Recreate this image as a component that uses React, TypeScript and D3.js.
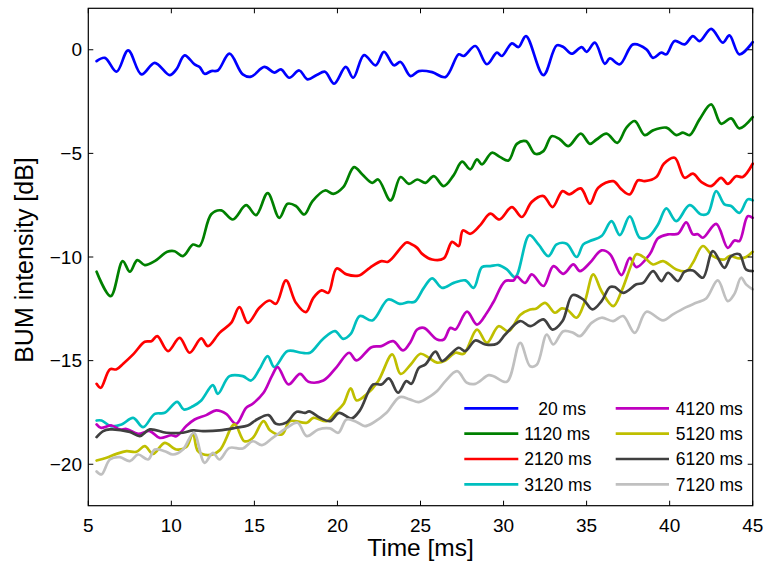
import React from "react";
import * as d3 from "d3";

type Pt = [number, number];

// BUM intensity traces [time ms, dB], one array per delay
const s20: Pt[] = [[5.5,-0.55],[6.0,-0.39],[6.7,-1.06],[7.4,-0.03],[8.2,-1.19],[9.0,-0.63],[9.9,-1.22],[10.3,-0.95],[10.8,-0.27],[11.4,-0.71],[11.7,-0.83],[12.0,-1.16],[12.4,-1.03],[12.8,-1.0],[13.5,-0.19],[14.3,-1.19],[14.8,-1.3],[15.6,-0.83],[16.2,-1.1],[16.6,-0.95],[17.1,-1.35],[17.7,-1.0],[18.2,-1.43],[18.75,-1.22],[19.25,-1.06],[19.8,-1.64],[20.5,-0.83],[20.95,-1.35],[21.6,-0.26],[22.3,-0.75],[22.8,-0.1],[23.4,-0.75],[23.8,-0.59],[24.4,-1.27],[24.9,-1.03],[25.7,-1.08],[26.5,-1.32],[27.3,-0.22],[27.6,-0.3],[28.3,0.18],[29.0,-0.7],[29.6,-0.14],[29.9,-0.3],[30.5,0.31],[30.9,0.13],[31.35,0.66],[32.4,-1.22],[33.2,0.21],[33.6,0.13],[34.1,-0.19],[34.7,0.13],[35.0,-0.1],[35.5,0.34],[36.1,-0.68],[36.4,-0.42],[37.0,-0.7],[37.8,0.26],[38.6,0.02],[39.0,-0.39],[39.5,-0.14],[39.8,-0.22],[40.3,0.42],[40.9,0.26],[41.4,0.66],[41.8,0.42],[42.5,1.01],[43.2,0.34],[43.6,0.69],[44.2,-0.22],[45.0,0.37]];

const s1120: Pt[] = [[5.5,-10.71],[6.35,-11.89],[7.07,-10.2],[7.5,-10.71],[7.95,-10.15],[8.4,-10.39],[9.0,-10.2],[9.75,-9.75],[10.2,-9.72],[10.7,-9.96],[11.3,-9.4],[11.7,-9.47],[12.4,-7.94],[13.0,-7.75],[13.7,-8.19],[14.5,-7.5],[15.1,-7.98],[15.8,-6.92],[16.5,-8.11],[17.0,-7.43],[17.5,-7.54],[18.0,-7.95],[18.5,-7.3],[19.25,-6.79],[19.75,-6.95],[20.35,-6.63],[21.0,-5.66],[21.5,-6.02],[22.1,-6.42],[22.45,-6.26],[23.2,-7.27],[23.8,-6.14],[24.3,-6.47],[24.8,-6.26],[25.3,-6.42],[25.8,-6.1],[26.4,-6.58],[27.0,-6.05],[27.5,-5.4],[28.0,-5.77],[28.4,-5.29],[28.7,-5.53],[29.3,-4.97],[29.8,-5.18],[30.3,-5.34],[30.8,-4.54],[31.35,-4.41],[31.9,-5.02],[32.4,-4.89],[32.9,-4.17],[33.4,-4.33],[33.9,-4.65],[34.65,-4.05],[35.2,-4.54],[35.6,-4.33],[36.2,-4.05],[36.85,-4.49],[37.4,-3.76],[37.9,-3.44],[38.5,-4.12],[39.0,-3.89],[39.8,-3.76],[40.4,-4.12],[40.8,-4.0],[41.2,-4.12],[41.8,-3.36],[42.5,-2.64],[43.1,-3.57],[43.7,-3.31],[44.2,-3.79],[45.0,-3.25]];

const s2120: Pt[] = [[5.5,-16.12],[5.75,-16.31],[6.3,-15.42],[6.7,-15.42],[7.1,-15.15],[7.7,-14.7],[8.4,-14.09],[8.8,-14.06],[9.15,-13.82],[9.8,-14.54],[10.5,-13.9],[11.1,-14.62],[11.8,-13.93],[12.2,-14.3],[12.9,-13.66],[13.6,-13.18],[14.1,-12.42],[14.6,-13.18],[15.3,-12.45],[15.9,-12.1],[16.3,-12.26],[16.9,-11.13],[17.5,-12.21],[18.1,-12.66],[18.55,-11.97],[19.05,-11.61],[19.45,-11.73],[19.95,-10.55],[20.55,-10.84],[21.3,-10.89],[21.95,-10.52],[22.65,-10.2],[23.05,-10.23],[24.15,-9.3],[24.4,-9.36],[24.8,-9.56],[25.1,-9.85],[25.7,-10.12],[26.4,-10.07],[26.9,-9.27],[27.3,-9.47],[27.55,-8.72],[28.0,-8.88],[28.6,-8.46],[29.2,-7.91],[29.75,-8.19],[30.5,-7.59],[31.1,-8.07],[31.7,-7.34],[32.4,-7.06],[32.95,-7.59],[33.55,-6.82],[33.95,-6.98],[34.65,-6.69],[35.2,-7.43],[35.7,-6.66],[36.6,-6.34],[37.1,-6.74],[37.6,-6.98],[38.1,-6.3],[38.5,-6.34],[39.2,-6.14],[39.65,-5.5],[40.3,-5.21],[40.9,-6.18],[41.4,-5.98],[41.9,-6.37],[42.5,-6.58],[43.1,-6.18],[43.5,-6.47],[44.0,-6.1],[44.4,-6.14],[45.0,-5.5]];

const s3120: Pt[] = [[5.5,-17.89],[5.8,-17.89],[6.35,-18.16],[7.0,-18.08],[7.7,-17.76],[8.3,-18.21],[9.0,-17.57],[9.6,-17.52],[10.35,-16.99],[10.75,-17.36],[11.3,-17.2],[11.8,-16.92],[12.5,-16.18],[12.8,-16.6],[13.5,-15.75],[14.3,-15.75],[14.8,-15.96],[15.3,-15.42],[15.8,-14.78],[16.2,-15.31],[17.0,-14.54],[17.85,-14.62],[18.35,-14.62],[19.1,-13.98],[19.85,-13.58],[20.35,-13.95],[20.8,-13.71],[21.35,-12.85],[22.1,-13.06],[23.05,-12.05],[23.75,-12.26],[24.25,-12.18],[24.65,-12.16],[25.2,-11.49],[25.7,-11.03],[26.3,-11.49],[27.0,-11.25],[27.7,-11.13],[28.2,-11.49],[28.7,-10.49],[29.2,-10.44],[29.7,-10.39],[30.2,-10.6],[30.7,-10.97],[31.55,-8.95],[32.1,-9.39],[32.7,-9.96],[33.2,-9.39],[33.8,-9.36],[34.4,-10.0],[34.8,-9.39],[35.2,-9.23],[35.9,-8.99],[36.5,-8.27],[37.0,-8.94],[37.6,-8.04],[38.2,-9.07],[38.7,-9.04],[39.3,-8.43],[39.8,-7.65],[40.4,-8.27],[41.2,-7.5],[41.9,-7.95],[42.3,-7.9],[42.8,-6.82],[43.3,-7.46],[43.7,-7.54],[44.2,-7.87],[44.7,-7.22],[45.0,-7.27]];

const s4120: Pt[] = [[5.5,-18.08],[5.75,-18.24],[6.4,-18.13],[6.9,-18.32],[7.3,-18.3],[8.0,-18.53],[8.7,-18.4],[9.3,-18.73],[10.0,-18.6],[10.3,-18.65],[10.9,-18.16],[11.4,-17.84],[12.1,-17.63],[12.7,-17.4],[13.3,-17.57],[13.9,-18.05],[14.5,-17.28],[14.9,-17.08],[15.55,-16.55],[16.05,-15.75],[16.4,-15.31],[17.05,-16.15],[17.75,-15.64],[18.25,-16.02],[19.15,-15.96],[19.95,-15.31],[20.7,-14.62],[21.15,-14.99],[22.05,-14.35],[22.65,-14.3],[23.35,-14.06],[23.95,-14.51],[24.4,-14.1],[24.8,-13.5],[25.2,-13.42],[26.0,-13.98],[26.4,-13.98],[26.8,-13.42],[27.1,-13.5],[27.8,-12.64],[28.4,-13.26],[29.0,-12.69],[29.4,-12.16],[30.1,-11.16],[30.6,-11.13],[30.8,-10.95],[31.3,-11.25],[31.7,-10.84],[32.4,-11.4],[33.0,-10.44],[33.6,-10.81],[34.2,-10.36],[34.6,-10.68],[35.2,-10.28],[35.9,-9.68],[36.4,-9.85],[37.1,-10.87],[37.6,-10.04],[38.0,-10.49],[38.8,-9.87],[39.3,-9.1],[39.9,-8.91],[40.5,-8.88],[41.0,-8.33],[41.4,-8.91],[41.7,-8.9],[42.0,-9.07],[42.8,-8.4],[43.5,-9.56],[43.9,-9.2],[44.2,-9.23],[44.7,-8.03],[45.0,-8.11]];

const s5120: Pt[] = [[5.5,-19.82],[6.1,-19.69],[6.7,-19.5],[7.3,-19.37],[7.9,-19.4],[8.4,-19.13],[8.9,-19.5],[9.6,-18.97],[10.3,-19.29],[10.9,-19.17],[11.3,-18.53],[11.6,-19.37],[12.2,-19.56],[12.9,-19.33],[13.8,-18.08],[14.4,-18.89],[14.9,-18.73],[15.55,-17.92],[15.95,-18.37],[16.65,-18.56],[17.15,-17.92],[18.15,-18.0],[18.55,-17.76],[19.35,-17.92],[19.85,-17.52],[20.35,-17.11],[20.8,-16.34],[21.15,-16.92],[21.75,-16.63],[22.45,-15.99],[23.3,-14.7],[23.8,-15.64],[24.4,-15.2],[25.0,-14.67],[25.5,-14.86],[26.0,-15.1],[26.5,-14.99],[27.1,-14.62],[27.6,-14.67],[28.4,-13.5],[29.0,-14.14],[29.7,-13.34],[30.3,-13.58],[31.0,-12.8],[31.6,-12.53],[31.95,-12.5],[32.5,-12.21],[33.1,-12.69],[33.5,-12.48],[33.85,-12.55],[34.4,-12.93],[34.9,-12.13],[35.4,-10.84],[35.9,-11.65],[36.6,-12.37],[37.1,-11.65],[37.7,-10.36],[38.0,-9.87],[38.5,-10.04],[39.0,-10.36],[39.6,-10.2],[40.4,-10.6],[41.0,-10.68],[41.4,-10.28],[42.0,-9.47],[42.6,-9.96],[43.3,-10.12],[43.6,-9.95],[44.2,-10.07],[44.6,-10.0],[45.0,-9.75]];

const s6120: Pt[] = [[5.5,-18.69],[5.9,-18.4],[6.3,-18.32],[7.5,-18.44],[8.1,-18.64],[8.7,-18.32],[9.7,-18.48],[10.7,-18.48],[11.3,-18.37],[11.9,-18.4],[12.9,-18.37],[13.9,-18.24],[14.6,-18.13],[15.15,-17.84],[15.85,-17.63],[16.3,-18.05],[16.9,-18.0],[17.55,-17.47],[18.05,-17.52],[18.3,-17.45],[18.95,-17.76],[19.55,-17.92],[20.1,-17.52],[20.85,-17.79],[21.35,-17.4],[22.15,-16.15],[22.65,-16.15],[23.1,-15.86],[23.65,-16.55],[24.15,-15.99],[24.45,-16.12],[24.9,-15.35],[25.3,-15.18],[25.9,-14.57],[26.3,-15.02],[26.8,-14.7],[27.3,-14.38],[27.7,-14.54],[28.3,-14.03],[28.9,-14.22],[29.6,-14.19],[30.1,-13.74],[31.0,-13.09],[31.6,-13.34],[32.4,-13.01],[32.95,-13.5],[33.55,-13.09],[34.15,-11.84],[34.8,-12.05],[35.35,-12.53],[35.9,-12.13],[36.4,-11.45],[36.7,-11.45],[37.2,-11.73],[38.0,-11.32],[38.4,-11.25],[39.0,-10.68],[39.5,-11.16],[39.9,-10.76],[40.5,-11.16],[40.9,-10.71],[41.4,-10.65],[42.0,-11.0],[42.6,-9.72],[43.3,-10.52],[43.7,-9.96],[44.2,-9.87],[44.6,-10.6],[45.0,-10.68]];

const s7120: Pt[] = [[5.5,-20.35],[5.8,-20.49],[6.3,-19.77],[6.9,-19.66],[7.5,-19.85],[8.0,-19.53],[8.6,-19.77],[9.0,-19.29],[9.6,-19.37],[10.1,-19.53],[10.7,-19.29],[11.35,-18.48],[12.0,-19.93],[12.5,-19.45],[12.9,-19.77],[13.5,-19.21],[14.3,-19.24],[14.9,-18.89],[15.45,-19.08],[16.1,-18.73],[16.9,-18.27],[17.6,-18.0],[18.15,-18.64],[18.85,-18.32],[19.55,-18.27],[20.05,-18.48],[20.55,-17.84],[21.15,-17.96],[21.65,-18.16],[22.15,-18.0],[22.95,-17.52],[23.75,-16.76],[24.35,-16.87],[24.9,-17.0],[25.6,-16.71],[26.0,-16.47],[26.5,-15.99],[27.2,-15.51],[27.8,-16.07],[28.3,-16.12],[29.1,-15.7],[29.4,-15.75],[30.2,-16.02],[31.0,-14.14],[31.6,-15.27],[32.0,-15.2],[32.6,-13.74],[33.0,-14.22],[33.6,-13.58],[34.2,-13.66],[34.6,-13.82],[35.3,-13.18],[35.9,-12.93],[36.6,-13.09],[37.2,-12.85],[37.9,-13.66],[38.6,-12.64],[39.6,-13.06],[40.2,-12.77],[41.0,-12.42],[41.6,-12.21],[42.2,-12.0],[42.9,-11.13],[43.5,-12.13],[43.9,-11.78],[44.3,-11.0],[44.6,-11.32],[45.0,-11.56]];

const seriesLabels = ["20 ms", "1120 ms", "2120 ms", "3120 ms", "4120 ms", "5120 ms", "6120 ms", "7120 ms"];
const seriesData = [s20, s1120, s2120, s3120, s4120, s5120, s6120, s7120];
const seriesColors = ["#0000ff", "#008000", "#ff0000", "#00bfbf", "#bf00bf", "#bfbf00", "#404040", "#c0c0c0"];

const xTicks = [5, 10, 15, 20, 25, 30, 35, 40, 45];
const yTicks = [-20, -15, -10, -5, 0];

const W = 768;
const H = 568;
const left = 88.3;
const right = 752.7;
const top = 8.3;
const bottom = 505.7;
const FONT = "'Liberation Sans', Arial, Helvetica, sans-serif";

export default function App() {
  const x = d3.scaleLinear().domain([5, 45]).range([left, right]);
  const y = d3.scaleLinear().domain([-22, 2]).range([bottom, top]);
  const line = d3
    .line<Pt>()
    .x((d) => x(d[0]))
    .y((d) => y(d[1]))
    .curve(d3.curveCatmullRom.alpha(0.5));

  const tl = 5;
  const legendRows = [408.3, 433.6, 459, 484.3];
  const legendCols = [
    { x0: 464.3, x1: 518.3, tx: 524.3 },
    { x0: 615.7, x1: 669, tx: 675.7 },
  ];

  return (
    <svg
      width={W}
      height={H}
      style={{ position: "absolute", left: 0, top: 0, background: "#fff" }}
      fontFamily={FONT}
    >
      <rect width={W} height={H} fill="#fff" />
      {seriesData.map((d, i) => (
        <path
          key={seriesLabels[i]}
          d={line(d) ?? ""}
          fill="none"
          stroke={seriesColors[i]}
          strokeWidth={2.7}
          strokeLinejoin="round"
          strokeLinecap="round"
        />
      ))}

      {/* axes box with inward ticks on all sides */}
      <rect x={left} y={top} width={right - left} height={bottom - top} fill="none" stroke="#000" strokeWidth={1.2} />
      {xTicks.map((t) => (
        <g key={"x" + t}>
          <line x1={x(t)} x2={x(t)} y1={bottom} y2={bottom - tl} stroke="#000" strokeWidth={1} />
          <line x1={x(t)} x2={x(t)} y1={top} y2={top + tl} stroke="#000" strokeWidth={1} />
          <text x={x(t)} y={532} textAnchor="middle" fontSize={19} fill="#000">
            {t}
          </text>
        </g>
      ))}
      {yTicks.map((t) => (
        <g key={"y" + t}>
          <line x1={left} x2={left + tl} y1={y(t)} y2={y(t)} stroke="#000" strokeWidth={1} />
          <line x1={right} x2={right - tl} y1={y(t)} y2={y(t)} stroke="#000" strokeWidth={1} />
          <text x={82} y={y(t) + 6.7} textAnchor="end" fontSize={19} fill="#000">
            {t < 0 ? "\u2212" + Math.abs(t) : String(t)}
          </text>
        </g>
      ))}

      <text x={(left + right) / 2} y={556} textAnchor="middle" fontSize={24.5} fill="#000">
        Time [ms]
      </text>
      <text
        transform={`translate(33, ${(top + bottom) / 2 + 3}) rotate(-90)`}
        textAnchor="middle"
        fontSize={25}
        fill="#000"
      >
        BUM intensity [dB]
      </text>

      {/* legend, two columns of four */}
      {seriesLabels.map((lab, i) => {
        const col = legendCols[Math.floor(i / 4)];
        const ry = legendRows[i % 4];
        return (
          <g key={"lg" + lab}>
            <line x1={col.x0} x2={col.x1} y1={ry} y2={ry} stroke={seriesColors[i]} strokeWidth={2.7} />
            <text
              x={i === 0 ? col.tx + 14 : col.tx}
              y={ry + 6.3}
              fontSize={17.5}
              fill="#000"
            >
              {lab}
            </text>
          </g>
        );
      })}
    </svg>
  );
}
